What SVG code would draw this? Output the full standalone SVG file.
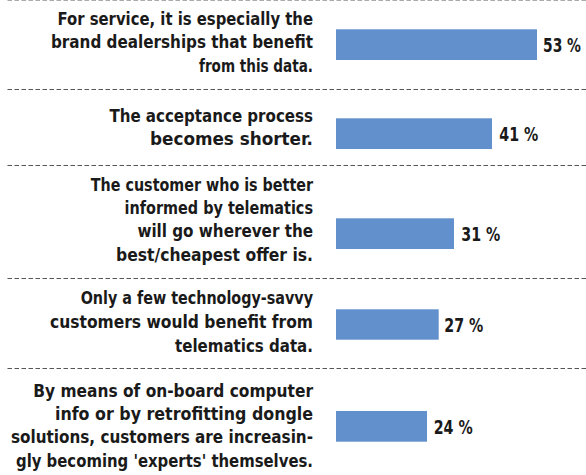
<svg xmlns="http://www.w3.org/2000/svg" width="586" height="475" viewBox="0 0 586 475">
<style>
.lbl{font-family:"DejaVu Sans Condensed","DejaVu Sans","Liberation Sans",sans-serif;font-stretch:condensed;font-weight:bold;font-size:18.5px;fill:#1a1a1a}
.val{font-family:"DejaVu Sans Condensed","DejaVu Sans","Liberation Sans",sans-serif;font-stretch:condensed;font-weight:bold;font-size:19px;fill:#1a1a1a}
.bar{fill:#6190cc}
.sep{stroke:#555;stroke-width:1;stroke-dasharray:4.5 2.5;fill:none}
</style>
<rect width="586" height="475" fill="#fff"/>
<g id="separators">
<line class="sep" x1="7.5" y1="0.5" x2="586" y2="0.5" stroke-opacity="0.5"/>
<line class="sep" x1="7.5" y1="89.5" x2="586" y2="89.5"/>
<line class="sep" x1="7.5" y1="165.5" x2="586" y2="165.5"/>
<line class="sep" x1="7.5" y1="278.5" x2="586" y2="278.5"/>
<line class="sep" x1="7.5" y1="368.5" x2="586" y2="368.5"/>
</g>
<g id="row1">
<text class="lbl" x="57.5" y="25" textLength="255.5" lengthAdjust="spacingAndGlyphs">For service, it is especially the</text>
<text class="lbl" x="51" y="48.3" textLength="262" lengthAdjust="spacingAndGlyphs">brand dealerships that benefit</text>
<text class="lbl" x="199" y="71.7" textLength="114" lengthAdjust="spacingAndGlyphs">from this data.</text>
<rect class="bar" x="336" y="29.3" width="201" height="30.7"/>
<text class="val" x="543" y="51.7" textLength="38" lengthAdjust="spacingAndGlyphs">53 %</text>
</g>
<g id="row2">
<text class="lbl" x="109.4" y="121.7" textLength="203.6" lengthAdjust="spacingAndGlyphs">The acceptance process</text>
<text class="lbl" x="150" y="145" textLength="163" lengthAdjust="spacingAndGlyphs">becomes shorter.</text>
<rect class="bar" x="336" y="118.3" width="156" height="30.7"/>
<text class="val" x="499.3" y="140.7" textLength="39" lengthAdjust="spacingAndGlyphs">41 %</text>
</g>
<g id="row3">
<text class="lbl" x="90.8" y="190.7" textLength="222.2" lengthAdjust="spacingAndGlyphs">The customer who is better</text>
<text class="lbl" x="124.6" y="214" textLength="188.4" lengthAdjust="spacingAndGlyphs">informed by telematics</text>
<text class="lbl" x="137.4" y="237.3" textLength="175.6" lengthAdjust="spacingAndGlyphs">will go wherever the</text>
<text class="lbl" x="116" y="260.7" textLength="197" lengthAdjust="spacingAndGlyphs">best/cheapest offer is.</text>
<rect class="bar" x="336" y="218.3" width="118" height="30.7"/>
<text class="val" x="461.3" y="240.7" textLength="39" lengthAdjust="spacingAndGlyphs">31 %</text>
</g>
<g id="row4">
<text class="lbl" x="80.7" y="304" textLength="232.3" lengthAdjust="spacingAndGlyphs">Only a few technology-savvy</text>
<text class="lbl" x="50" y="328.3" textLength="263" lengthAdjust="spacingAndGlyphs">customers would benefit from</text>
<text class="lbl" x="175" y="351.7" textLength="138" lengthAdjust="spacingAndGlyphs">telematics data.</text>
<rect class="bar" x="336" y="309.3" width="102.7" height="30.4"/>
<text class="val" x="444.3" y="331.7" textLength="39" lengthAdjust="spacingAndGlyphs">27 %</text>
</g>
<g id="row5">
<text class="lbl" x="33.3" y="396.7" textLength="279.7" lengthAdjust="spacingAndGlyphs">By means of on-board computer</text>
<text class="lbl" x="55" y="420" textLength="258" lengthAdjust="spacingAndGlyphs">info or by retrofitting dongle</text>
<text class="lbl" x="11" y="443.3" textLength="302" lengthAdjust="spacingAndGlyphs">solutions, customers are increasin-</text>
<text class="lbl" x="16" y="466.7" textLength="297" lengthAdjust="spacingAndGlyphs">gly becoming 'experts' themselves.</text>
<rect class="bar" x="336" y="411" width="91" height="30.7"/>
<text class="val" x="433.7" y="434" textLength="39" lengthAdjust="spacingAndGlyphs">24 %</text>
</g>
</svg>
